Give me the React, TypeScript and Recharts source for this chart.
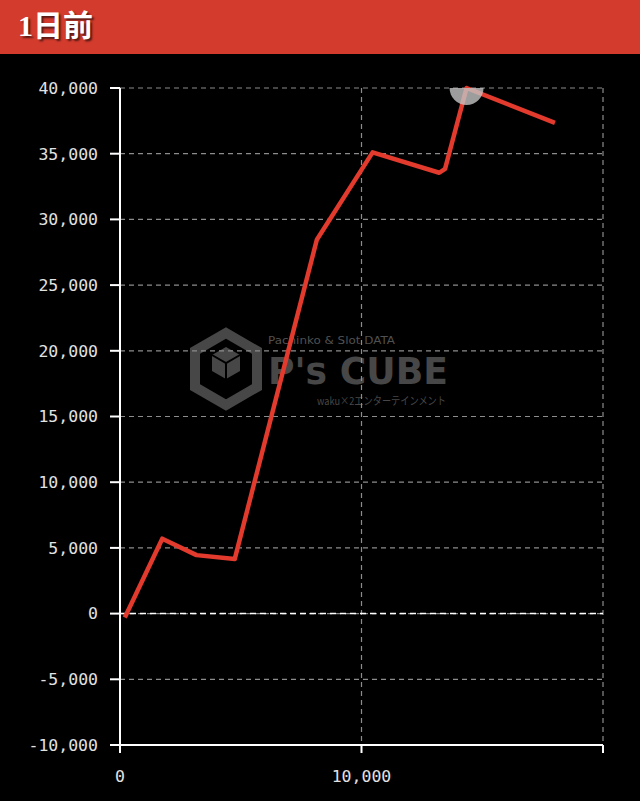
import { LineChart, Line, XAxis, YAxis, CartesianGrid, ReferenceLine, ReferenceDot } from 'recharts';

const games = [200, 1750, 3170, 4750, 8150, 10460, 13220, 13460, 14350, 18010];
const balance = [-300, 5700, 4450, 4150, 28450, 35100, 33550, 33850, 40000, 37350];
const xTicks = [0, 10000, 20000];
const yTicks = [-10000, -5000, 0, 5000, 10000, 15000, 20000, 25000, 30000, 35000, 40000];

const data = games.map((x, i) => ({ x, y: balance[i] }));

const mono = '"DejaVu Sans Mono", monospace';
const fmt = (v: number) => v.toLocaleString('en-US');

// faint site logo that sits behind the plot
function Watermark() {
  const c = '#474747';
  return (
    <svg width={640} height={801} style={{ position: 'absolute', left: 0, top: 0 }}>
      <polygon
        points="226,333 257,351 257,387 226,405 195,387 195,351"
        fill="none"
        stroke={c}
        strokeWidth={10}
      />
      <polygon points="226,347 240,355 240,371 226,379 212,371 212,355" fill={c} />
      <polyline points="212,355 226,363 240,355" fill="none" stroke="#000" strokeWidth={2} />
      <line x1={226} y1={363} x2={226} y2={379} stroke="#000" strokeWidth={2} />
      <text x={268} y={344} fill="#505050" fontSize={11} fontFamily='"DejaVu Sans", sans-serif' textLength={127} lengthAdjust="spacingAndGlyphs">
        Pachinko &amp; Slot DATA
      </text>
      <text x={268} y={384} fill={c} fontSize={38} fontWeight="bold" fontFamily='"DejaVu Sans", sans-serif' textLength={180} lengthAdjust="spacingAndGlyphs">
        P's CUBE
      </text>
      <text x={317} y={405} fill={c} fontSize={11} fontFamily='"Noto Sans CJK JP", sans-serif' textLength={129} lengthAdjust="spacingAndGlyphs">
        waku×2エンターテインメント
      </text>
    </svg>
  );
}

export default function App() {
  return (
    <div style={{ position: 'relative', width: 640, height: 801, background: '#000', overflow: 'hidden' }}>
      <style>{'body{margin:0;background:#000}'}</style>
      <div
        style={{
          height: 54,
          background: '#D33B2D',
          color: '#fff',
          fontFamily: '"Liberation Serif", "Noto Sans CJK JP", serif',
          fontWeight: 'bold',
          fontSize: 30,
          lineHeight: '52px',
          paddingLeft: 18,
          textShadow: '2px 2px 2px rgba(0,0,0,0.6)',
        }}
      >
        1日前
      </div>
      <Watermark />
      <div style={{ position: 'absolute', left: 0, top: 54 }}>
        <LineChart width={640} height={747} data={data} margin={{ top: 34, right: 37, bottom: 0, left: 0 }}>
          <CartesianGrid stroke="#8c8c8c" strokeDasharray="5 4" strokeWidth={1.2} />
          <XAxis
            type="number"
            dataKey="x"
            domain={[0, 20000]}
            ticks={xTicks}
            height={56}
            tickSize={8}
            tickMargin={17}
            tickFormatter={(v: number) => (v === 20000 ? '' : fmt(v))}
            stroke="#fff"
            strokeWidth={2}
            tick={{ fill: '#e2e2e2', fontSize: 16.5, fontFamily: mono }}
          />
          <YAxis
            type="number"
            domain={[-10000, 40000]}
            ticks={yTicks}
            width={120}
            tickSize={10}
            tickMargin={12}
            tickFormatter={fmt}
            stroke="#fff"
            strokeWidth={2}
            tick={{ fill: '#e2e2e2', fontSize: 16.5, fontFamily: mono }}
            interval={0}
          />
          <ReferenceLine y={0} stroke="#fff" strokeDasharray="6 4" strokeWidth={1.5} />
          <ReferenceDot
            x={14350}
            y={40000}
            r={17}
            fill="#c4c4c4"
            fillOpacity={0.8}
            stroke="none"
            ifOverflow="hidden"
          />
          <Line
            type="linear"
            dataKey="y"
            stroke="#E23A2D"
            strokeWidth={4.5}
            dot={false}
            strokeLinejoin="round"
            isAnimationActive={false}
          />
        </LineChart>
      </div>
    </div>
  );
}
